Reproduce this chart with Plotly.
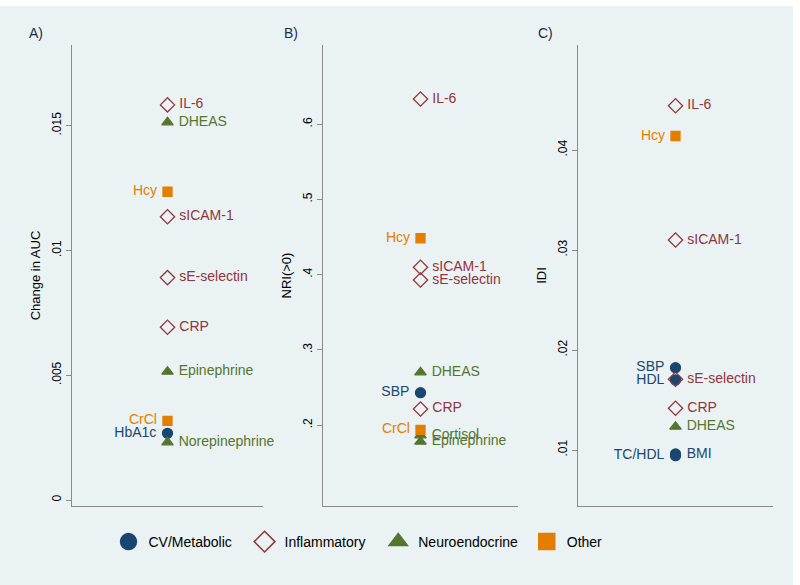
import plotly.graph_objects as go

# ---------------- data ----------------
groups = ["CV/Metabolic", "Inflammatory", "Neuroendocrine", "Other"]

labels_a = ["IL-6", "DHEAS", "Hcy", "sICAM-1", "sE-selectin", "CRP", "Epinephrine", "CrCl", "HbA1c", "Norepinephrine"]
values_a = [0.01583, 0.01513, 0.01235, 0.01135, 0.00891, 0.00692, 0.00514, 0.00317, 0.00267, 0.00231]
groups_a = ["Inflammatory", "Neuroendocrine", "Other", "Inflammatory", "Inflammatory", "Inflammatory",
            "Neuroendocrine", "Other", "CV/Metabolic", "Neuroendocrine"]
sides_a = ["right", "right", "left", "right", "right", "right", "right", "left", "left", "right"]

labels_b = ["IL-6", "Hcy", "sICAM-1", "sE-selectin", "DHEAS", "SBP", "CRP", "CrCl", "Cortisol", "Epinephrine"]
values_b = [0.6335, 0.4483, 0.4097, 0.3928, 0.2701, 0.2430, 0.2213, 0.1934, 0.1863, 0.1778]
groups_b = ["Inflammatory", "Other", "Inflammatory", "Inflammatory", "Neuroendocrine", "CV/Metabolic",
            "Inflammatory", "Other", "Neuroendocrine", "Neuroendocrine"]
sides_b = ["right", "left", "right", "right", "right", "left", "right", "left", "right", "right"]

labels_c = ["IL-6", "Hcy", "sICAM-1", "SBP", "HDL", "sE-selectin", "CRP", "DHEAS", "TC/HDL", "BMI"]
values_c = [0.04443, 0.0414, 0.0310, 0.01823, 0.0170, 0.01707, 0.01417, 0.01233, 0.00943, 0.0096]
groups_c = ["Inflammatory", "Other", "Inflammatory", "CV/Metabolic", "CV/Metabolic", "Inflammatory",
            "Inflammatory", "Neuroendocrine", "CV/Metabolic", "CV/Metabolic"]
sides_c = ["right", "left", "right", "left", "left", "right", "right", "right", "left", "right"]

ticks_a = [0, 0.005, 0.01, 0.015]
ticktext_a = ["0", ".005", ".01", ".015"]
ticks_b = [0.2, 0.3, 0.4, 0.5, 0.6]
ticktext_b = [".2", ".3", ".4", ".5", ".6"]
ticks_c = [0.01, 0.02, 0.03, 0.04]
ticktext_c = [".01", ".02", ".03", ".04"]

panel_titles = ["A)", "B)", "C)"]
y_titles = ["Change in AUC", "NRI(>0)", "IDI"]

# ---------------- styles ----------------
BG = "#EAF2F3"
colors = {"CV/Metabolic": "#1A476F", "Inflammatory": "#90353B",
          "Neuroendocrine": "#55752F", "Other": "#E37E00"}
symbols = {"CV/Metabolic": "circle", "Inflammatory": "diamond-open",
           "Neuroendocrine": "triangle-up", "Other": "square"}
sizes = {"CV/Metabolic": 10, "Inflammatory": 11, "Neuroendocrine": 10, "Other": 9}
legend_pad = {"CV/Metabolic": "\u00a0\u00a0", "Inflammatory": "\u00a0\u00a0",
              "Neuroendocrine": "\u00a0", "Other": ""}
FONT = "Liberation Sans, Arial, sans-serif"
NB = "\u00a0"

W, H = 800, 585
def fx(px):
    return px / W
def fy(py):
    return 1 - py / H

x_domains = [[fx(72), fx(263)], [fx(323), fx(518)], [fx(578), fx(773)]]
y_domain = [fy(506), fy(45)]
y_ranges = [[-0.00024, 0.01823], [0.0923, 0.7053], [0.0044, 0.0505]]

fig = go.Figure()

# legend entries
for g in groups:
    fig.add_trace(go.Scatter(
        x=[None], y=[None], mode="markers", name=g + legend_pad[g], legendgroup=g,
        marker=dict(symbol=symbols[g], size=16, color=colors[g],
                    line=dict(color=colors[g], width=1.5)),
        xaxis="x", yaxis="y", showlegend=True, hoverinfo="skip"))

panels = [(labels_a, values_a, groups_a, sides_a),
          (labels_b, values_b, groups_b, sides_b),
          (labels_c, values_c, groups_c, sides_c)]

for i, (labs, vals, grps, sides) in enumerate(panels):
    ax = "" if i == 0 else str(i + 1)
    for g in groups:
        for side in ["right", "left"]:
            idx = [k for k in range(len(labs)) if grps[k] == g and sides[k] == side]
            if not idx:
                continue
            txt = [(NB + labs[k]) if side == "right" else (labs[k] + NB) for k in idx]
            fig.add_trace(go.Scatter(
                x=[0] * len(idx), y=[vals[k] for k in idx], text=txt,
                mode="markers+text", textposition="middle " + side,
                textfont=dict(color=colors[g], size=14, family=FONT),
                marker=dict(symbol=symbols[g], size=sizes[g], color=colors[g],
                            line=dict(color=colors[g], width=1.3)),
                xaxis="x" + ax, yaxis="y" + ax, showlegend=False, legendgroup=g,
                cliponaxis=False, name=g))

ticks = [(ticks_a, ticktext_a), (ticks_b, ticktext_b), (ticks_c, ticktext_c)]
layout = {}
for i in range(3):
    key = "" if i == 0 else str(i + 1)
    layout["xaxis" + key] = dict(
        domain=x_domains[i], range=[-1, 1], showline=True, linecolor="#8A8A8A", linewidth=1,
        showticklabels=False, ticks="", showgrid=False, zeroline=False, fixedrange=True,
        anchor="y" + key, automargin=False)
    layout["yaxis" + key] = dict(
        domain=y_domain, range=y_ranges[i], showline=True, linecolor="#8A8A8A", linewidth=1,
        tickvals=ticks[i][0], ticktext=ticks[i][1], ticks="outside", ticklen=5,
        tickcolor="#8A8A8A", tickangle=-90, tickfont=dict(size=12, color="#000000", family=FONT),
        showgrid=False, zeroline=False, anchor="x" + key, automargin=False,
        title=dict(text=y_titles[i], font=dict(size=13, color="#000000", family=FONT), standoff=6))

annotations = []
title_x = [27, 282, 536]
for i in range(3):
    annotations.append(dict(text=panel_titles[i], x=fx(title_x[i]), y=fy(33), xref="paper", yref="paper",
                            xanchor="left", yanchor="middle", showarrow=False,
                            font=dict(size=14, color="#1E2B48", family=FONT)))

fig.update_layout(
    **layout,
    width=W, height=H,
    margin=dict(l=0, r=0, t=0, b=0),
    paper_bgcolor="white", plot_bgcolor=BG,
    font=dict(family=FONT),
    annotations=annotations,
    shapes=[dict(type="rect", xref="paper", yref="paper", x0=0, x1=fx(793), y0=0, y1=fy(6),
                 fillcolor=BG, line=dict(width=0), layer="below")],
    legend=dict(orientation="h", x=fx(358), xanchor="center", y=fy(542), yanchor="middle",
                bgcolor="rgba(0,0,0,0)", font=dict(size=14, color="#000000", family=FONT),
                itemclick=False, itemdoubleclick=False),
    showlegend=True,
)

fig.write_html("out.html", config={"displayModeBar": False},
               post_script="document.body.style.margin='0px';document.body.style.overflow='hidden';")
